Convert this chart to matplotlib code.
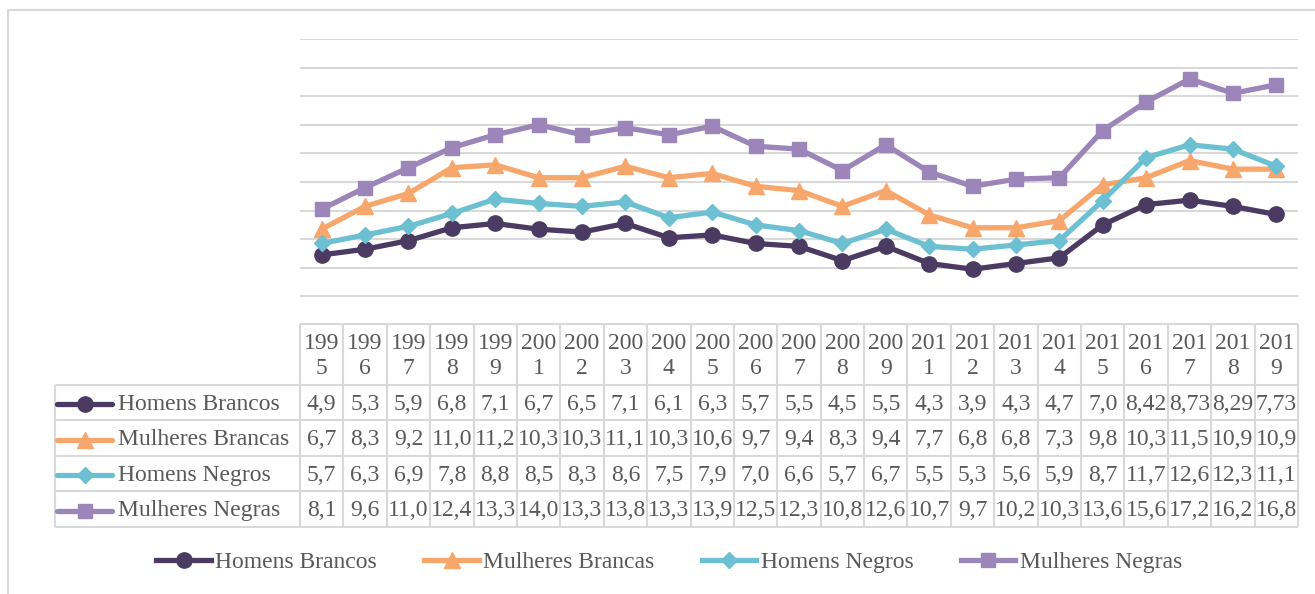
import numpy as np
import matplotlib.pyplot as plt
from matplotlib.patches import Rectangle

# Data
anos = [1995, 1996, 1997, 1998, 1999, 2001, 2002, 2003, 2004, 2005, 2006, 2007,
        2008, 2009, 2011, 2012, 2013, 2014, 2015, 2016, 2017, 2018, 2019]
homens_brancos = [4.9, 5.3, 5.9, 6.8, 7.1, 6.7, 6.5, 7.1, 6.1, 6.3, 5.7, 5.5,
                  4.5, 5.5, 4.3, 3.9, 4.3, 4.7, 7.0, 8.42, 8.73, 8.29, 7.73]
mulheres_brancas = [6.7, 8.3, 9.2, 11.0, 11.2, 10.3, 10.3, 11.1, 10.3, 10.6, 9.7, 9.4,
                    8.3, 9.4, 7.7, 6.8, 6.8, 7.3, 9.8, 10.3, 11.5, 10.9, 10.9]
homens_negros = [5.7, 6.3, 6.9, 7.8, 8.8, 8.5, 8.3, 8.6, 7.5, 7.9, 7.0, 6.6,
                 5.7, 6.7, 5.5, 5.3, 5.6, 5.9, 8.7, 11.7, 12.6, 12.3, 11.1]
mulheres_negras = [8.1, 9.6, 11.0, 12.4, 13.3, 14.0, 13.3, 13.8, 13.3, 13.9, 12.5, 12.3,
                   10.8, 12.6, 10.7, 9.7, 10.2, 10.3, 13.6, 15.6, 17.2, 16.2, 16.8]

nomes = ["Homens Brancos", "Mulheres Brancas", "Homens Negros", "Mulheres Negras"]
series = [homens_brancos, mulheres_brancas, homens_negros, mulheres_negras]
cores = ["#4B3A61", "#F8A76C", "#6CC0D2", "#9C85B8"]
marcadores = [("o", 11), ("^", 11), ("D", 8), ("s", 10)]

fonte = "Liberation Serif"
cinza_txt = "#595959"
cinza_lin = "#D9D9D9"
fs = 17

W, H = 1315, 594
def px(l, t, r, b):
    return [l / W, 1 - b / H, (r - l) / W, (b - t) / H]

def fmt(v):
    if abs(round(v * 10) - v * 10) > 1e-6:
        return f"{v:.2f}".replace(".", ",")
    return f"{v:.1f}".replace(".", ",")

fig = plt.figure(figsize=(13.15, 5.94), dpi=100)
fig.patches.append(Rectangle((8 / W, -0.1), 1.2, 1 - 10 / H + 0.1, transform=fig.transFigure,
                             fill=False, edgecolor=cinza_lin, lw=1.5))

n = len(anos)
x = np.arange(n)

# line chart
ax = fig.add_axes(px(300, 39, 1298, 325))
ax.set_xlim(-0.5, n - 0.5)
ax.set_ylim(0, 20)
ax.set_yticks(range(0, 21, 2))
ax.grid(axis="y", color=cinza_lin, lw=1.5)
ax.set_axisbelow(True)
ax.tick_params(left=False, bottom=False, labelleft=False, labelbottom=False)
for s in ax.spines.values():
    s.set_visible(False)
for nome, vals, cor, (mk, ms) in zip(nomes, series, cores, marcadores):
    ax.plot(x, vals, color=cor, lw=3.8, marker=mk, ms=ms, label=nome, clip_on=False)

# data table
col_w = (1298 - 300) / n
L = (300 - 55) / col_w
x0 = -0.5 - L
tab = fig.add_axes(px(55, 324, 1298, 527))
tab.set_xlim(x0, n - 0.5)
tab.set_ylim(5.7, 0)
tab.axis("off")
kw = dict(color=cinza_lin, lw=1.5, clip_on=False)
tab.hlines(0, -0.5, n - 0.5, **kw)
tab.hlines([1.7, 2.7, 3.7, 4.7, 5.7], x0, n - 0.5, **kw)
tab.vlines(np.arange(n + 1) - 0.5, 0, 5.7, **kw)
tab.vlines(x0, 1.7, 5.7, **kw)

for i, a in enumerate(anos):
    s = str(a)
    tab.text(i, 0.9, s[:3] + "\n" + s[3:], ha="center", va="center", fontsize=fs,
             family=fonte, color=cinza_txt, linespacing=1.3)

for k, (nome, vals, cor, (mk, ms)) in enumerate(zip(nomes, series, cores, marcadores)):
    yc = 2.25 + k
    k0 = x0 + 2 / col_w
    k1 = x0 + 57 / col_w
    tab.plot([k0, (k0 + k1) / 2, k1], [yc, yc, yc], color=cor, lw=3.8, marker=mk,
             ms=ms, markevery=[1], solid_capstyle="round", clip_on=False)
    tab.text(x0 + 63 / col_w, yc, nome, ha="left", va="center", fontsize=fs,
             family=fonte, color=cinza_txt)
    for i, v in enumerate(vals):
        tab.text(i, yc, fmt(v), ha="center", va="center", fontsize=fs,
                 family=fonte, color=cinza_txt)

leg = fig.legend(loc="center", bbox_to_anchor=(0.509, 1 - 562 / H), ncol=4, frameon=False,
                 prop={"family": fonte, "size": fs}, handlelength=2.3, handletextpad=0.2,
                 columnspacing=2.0)
for t in leg.get_texts():
    t.set_color(cinza_txt)

fig.savefig("out.png", dpi=100)
